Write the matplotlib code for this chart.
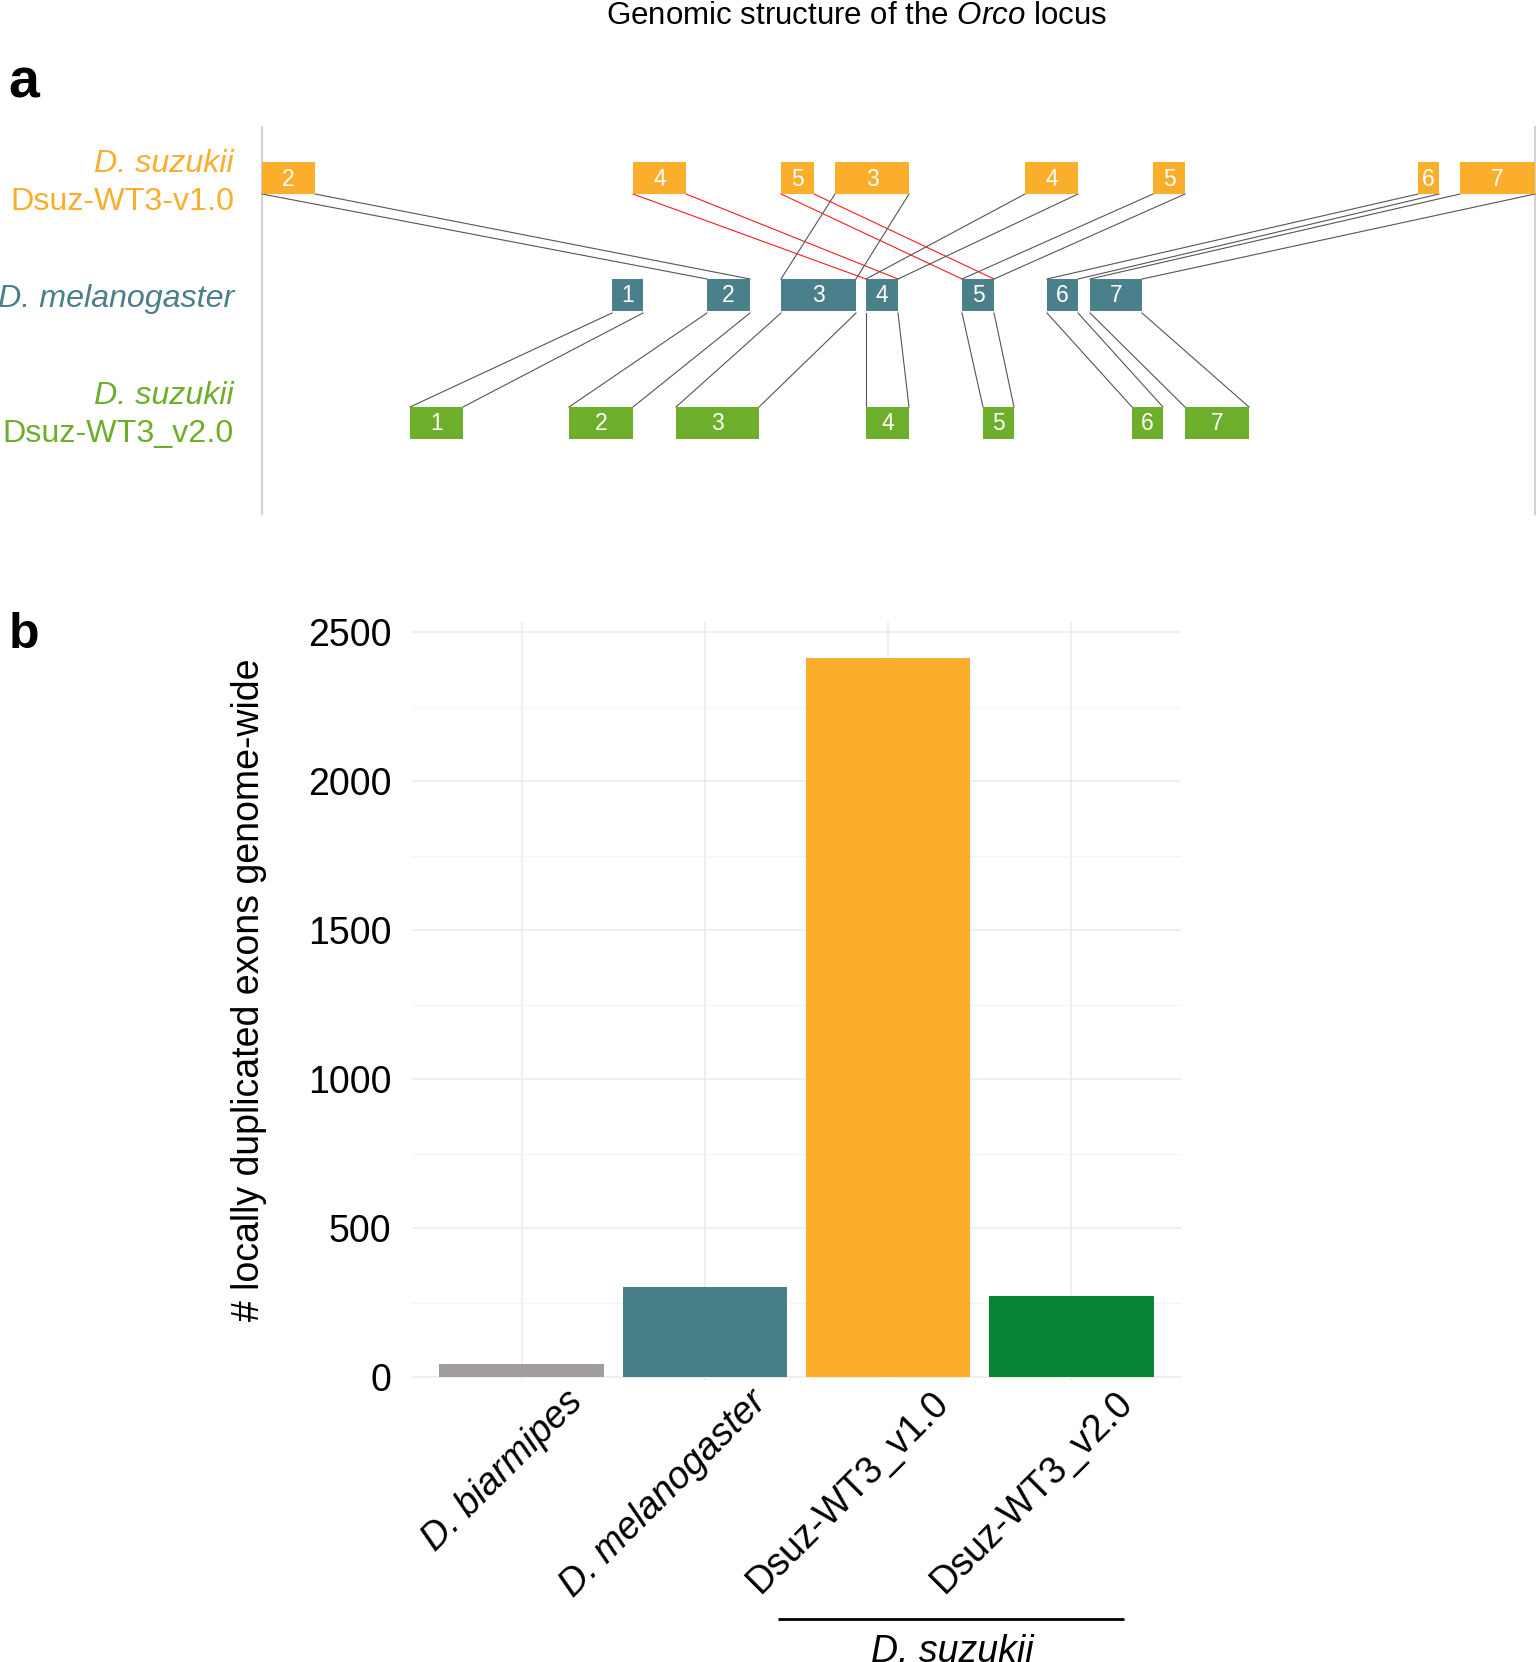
import matplotlib
matplotlib.use("Agg")
import matplotlib.pyplot as plt
from matplotlib.patches import Rectangle
import matplotlib.transforms as mtransforms
import numpy as np

plt.rcParams['font.family'] = ['Liberation Sans', 'DejaVu Sans']
plt.rcParams['mathtext.fontset'] = 'custom'
plt.rcParams['mathtext.rm'] = 'Liberation Sans'
plt.rcParams['mathtext.it'] = 'Liberation Sans:italic'

# ---------------- data: panel a (exon positions along the locus) ----------------
v1_labels = ['2', '4', '5', '3', '4', '5', '6', '7']
v1_start = [262, 633, 781, 835, 1025, 1153, 1418, 1460]
v1_end = [315, 686, 814, 909, 1078, 1185, 1439, 1535]

dmel_labels = ['1', '2', '3', '4', '5', '6', '7']
dmel_start = [612, 707, 781, 866, 962, 1047, 1090]
dmel_end = [643, 750, 856, 898, 994, 1078, 1142]

v2_labels = ['1', '2', '3', '4', '5', '6', '7']
v2_start = [410, 569, 676, 866, 983, 1132, 1185]
v2_end = [463, 633, 759, 909, 1014, 1163, 1249]

# links v1 exon index -> dmel exon index, and whether duplicated (red)
top_links_v1 = [0, 1, 2, 3, 4, 5, 6, 7]
top_links_dmel = [1, 3, 4, 2, 3, 4, 5, 6]
top_links_dup = [False, True, True, False, False, False, False, False]
bottom_links_dmel = [0, 1, 2, 3, 4, 5, 6]
bottom_links_v2 = [0, 1, 2, 3, 4, 5, 6]

# ---------------- data: panel b ----------------
categories = ['D. biarmipes', 'D. melanogaster', 'Dsuz-WT3_v1.0', 'Dsuz-WT3_v2.0']
cat_italic = [True, True, False, False]
dup_exons = [44, 302, 2413, 272]

# ---------------- style ----------------
ORANGE = '#FBAD2C'
TEAL = '#4A808B'
GREEN_A = '#6DAE2B'
BAR_COLORS = ['#A09C9C', '#488089', '#FCAD2C', '#078436']

W, H = 1536, 1662
fig = plt.figure(figsize=(W / 100, H / 100), dpi=100)


def fx(x):
    return x / W


def fy(y):
    return 1 - y / H


# title
fig.text(fx(857), fy(24), r'Genomic structure of the $\mathit{Orco}$ locus',
         ha='center', va='baseline', fontsize=22.5)
fig.text(fx(8), fy(98), 'a', fontsize=40, fontweight='bold', va='baseline', ha='left')
fig.text(fx(9), fy(648), 'b', fontsize=36, fontweight='bold', va='baseline', ha='left')

# ---------------- panel a ----------------
A_L, A_R, A_T, A_B = 261, 1536, 127, 514
ax_a = fig.add_axes([fx(A_L), fy(A_B), (A_R - A_L) / W, (A_B - A_T) / H])
ax_a.set_xlim(A_L, A_R)
ax_a.set_ylim(A_B, A_T)
ax_a.axis('off')

ax_a.plot([262, 262], [A_T, A_B], color='#D3D3D3', lw=1.5, clip_on=False)
ax_a.plot([1535, 1535], [A_T, A_B], color='#D3D3D3', lw=1.5, clip_on=False)

rows = {'v1': 178, 'dmel': 295, 'v2': 423}
HALF = 16


def draw_row(starts, ends, labels, yc, color):
    for s, e, lab in zip(starts, ends, labels):
        ax_a.add_patch(Rectangle((s, yc - HALF), e - s, 2 * HALF, facecolor=color,
                                 edgecolor='none', zorder=3))
        ax_a.text((s + e) / 2, yc + 1, lab, color='white', fontsize=16.5,
                  ha='center', va='center', zorder=4)


# links top
for i, j, dup in zip(top_links_v1, top_links_dmel, top_links_dup):
    c = '#FF1A1A' if dup else '#555555'
    y0 = rows['v1'] + HALF
    y1 = rows['dmel'] - HALF
    ax_a.plot([v1_start[i], dmel_start[j]], [y0, y1], color=c, lw=0.8, zorder=2)
    ax_a.plot([v1_end[i], dmel_end[j]], [y0, y1], color=c, lw=0.8, zorder=2)
# links bottom
for i, j in zip(bottom_links_dmel, bottom_links_v2):
    y0 = rows['dmel'] + HALF + 2
    y1 = rows['v2'] - HALF
    ax_a.plot([dmel_start[i], v2_start[j]], [y0, y1], color='#555555', lw=0.8, zorder=2)
    ax_a.plot([dmel_end[i], v2_end[j]], [y0, y1], color='#555555', lw=0.8, zorder=2)

draw_row(v1_start, v1_end, v1_labels, rows['v1'], ORANGE)
draw_row(dmel_start, dmel_end, dmel_labels, rows['dmel'], TEAL)
draw_row(v2_start, v2_end, v2_labels, rows['v2'], GREEN_A)

# row labels
LX = 234
FS_ROW = 23.2
fig.text(fx(LX), fy(172), 'D. suzukii', color=ORANGE, fontsize=FS_ROW, style='italic',
         ha='right', va='baseline')
fig.text(fx(LX), fy(210), 'Dsuz-WT3-v1.0', color=ORANGE, fontsize=FS_ROW,
         ha='right', va='baseline')
fig.text(fx(LX), fy(307), 'D. melanogaster', color=TEAL, fontsize=FS_ROW, style='italic',
         ha='right', va='baseline')
fig.text(fx(LX), fy(404), 'D. suzukii', color=GREEN_A, fontsize=FS_ROW, style='italic',
         ha='right', va='baseline')
fig.text(fx(LX), fy(442), 'Dsuz-WT3_v2.0', color=GREEN_A, fontsize=FS_ROW,
         ha='right', va='baseline')

# ---------------- panel b ----------------
B_L, B_R, B_T, B_B = 412, 1181, 622, 1380
ax_b = fig.add_axes([fx(B_L), fy(B_B), (B_R - B_L) / W, (B_B - B_T) / H])
x = np.arange(len(categories))
ax_b.bar(x, dup_exons, width=0.9, color=BAR_COLORS, zorder=3)
ax_b.set_xlim(-0.6, 3.6)
ax_b.set_ylim(-10, 2534)
ax_b.set_yticks([0, 500, 1000, 1500, 2000, 2500])
ax_b.set_yticks([250, 750, 1250, 1750, 2250], minor=True)
ax_b.set_xticks(x)
ax_b.set_xticklabels([])
ax_b.grid(True, which='major', color='#EBEBEB', lw=1.1, zorder=0)
ax_b.grid(True, which='minor', axis='y', color='#F4F4F4', lw=0.8, zorder=0)
for s in ax_b.spines.values():
    s.set_visible(False)
ax_b.tick_params(axis='both', which='both', length=0)
ax_b.tick_params(axis='y', labelsize=27, pad=15, labelcolor='black')
ax_b.set_axisbelow(True)

fig.text(fx(249), fy(990), '# locally duplicated exons genome-wide', rotation=90,
         fontsize=27, ha='center', va='center')

# rotated category labels
for xi, lab, it in zip(x, categories, cat_italic):
    tr = mtransforms.offset_copy(
        mtransforms.blended_transform_factory(ax_b.transData, fig.transFigure),
        fig=fig, x=43 * 72 / 100, y=0, units='points')
    ax_b.text(xi, fy(1384), lab, transform=tr, rotation=45, rotation_mode='anchor',
              ha='right', va='top', fontsize=27, style='italic' if it else 'normal',
              clip_on=False)

# bracket for D. suzukii
btr = mtransforms.blended_transform_factory(ax_b.transData, fig.transFigure)
ax_b.plot([1.4, 3.29], [fy(1619), fy(1619)], transform=btr, color='black', lw=2,
          clip_on=False, solid_capstyle='butt')
ax_b.text(2.35, fy(1634), 'D. suzukii', transform=btr, ha='center', va='top',
          fontsize=27, style='italic', clip_on=False)

fig.savefig('out.png', dpi=100, facecolor='white')
